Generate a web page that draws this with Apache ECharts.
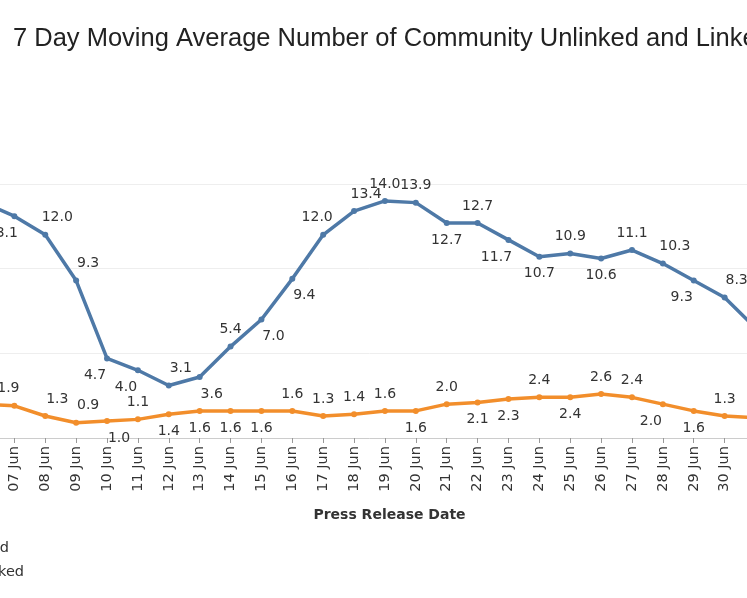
<!DOCTYPE html><html><head><meta charset="utf-8"><script src="https://cdn.jsdelivr.net/npm/echarts@6/dist/echarts.min.js"></script>
<style>html,body{margin:0;background:#fff;overflow:hidden;width:747px;height:598px}#c{position:absolute;left:-24px;top:0;width:787px;height:598px}</style></head><body><div id="c"></div><script>
const categories=['06 Jun','07 Jun','08 Jun','09 Jun','10 Jun','11 Jun','12 Jun','13 Jun','14 Jun','15 Jun','16 Jun','17 Jun','18 Jun','19 Jun','20 Jun','21 Jun','22 Jun','23 Jun','24 Jun','25 Jun','26 Jun','27 Jun','28 Jun','29 Jun','30 Jun','01 Jul'];
const unlinked=[13.9,13.1,12.0,9.3,4.7,4.0,3.1,3.6,5.4,7.0,9.4,12.0,13.4,14.0,13.9,12.7,12.7,11.7,10.7,10.9,10.6,11.1,10.3,9.3,8.3,6.5];
const linked=[2.0,1.9,1.3,0.9,1.0,1.1,1.4,1.6,1.6,1.6,1.6,1.3,1.4,1.6,1.6,2.0,2.1,2.3,2.4,2.4,2.6,2.4,2.0,1.6,1.3,1.2];
// T top, U top-right, V top-left, B bottom, R bottom-right, L bottom-left
const unlinkedPos='TLUULLURTRRVUTTBTLBTBTULUT';
const linkedPos='TVUURTBBBBTTTTBTBBTBTTLBTT';
const off={T:[0,0],U:[12,0],V:[-6,0],B:[0,0],R:[12,0],L:[-12,0]};
const last=categories.length-1;
const mk=(vals,pos)=>vals.map((v,i)=>({value:v,label:{show:i>0&&i<last,position:'TUV'.includes(pos[i])?'top':'bottom',offset:off[pos[i]]}}));
const chart=echarts.init(document.getElementById('c'));
const F='DejaVu Sans';
const lbl={show:true,formatter:p=>p.value.toFixed(1),fontSize:14,color:'#333',fontFamily:F,distance:7};
chart.setOption({
 animation:false,
 title:{text:'7 Day Moving Average Number of Community Unlinked and Linked Cases',left:32,top:21,textStyle:{fontSize:25.5,fontWeight:'normal',color:'#222',fontFamily:'Liberation Sans'}},
 grid:{left:0,right:0,top:184,bottom:160,containLabel:false},
 xAxis:{type:'category',data:categories,boundaryGap:false,axisLine:{lineStyle:{color:'#ccc'}},axisTick:{show:true,lineStyle:{color:'#999'}},
  axisLabel:{rotate:90,fontSize:14.5,color:'#333',fontFamily:F,interval:0},
  name:'Press Release Date',nameLocation:'middle',nameGap:70,nameTextStyle:{fontWeight:'bold',fontSize:14,color:'#333',fontFamily:F,padding:[0,0,0,40]}},
 yAxis:{type:'value',min:0,max:15,interval:5,axisLabel:{show:false},splitLine:{lineStyle:{color:'#eee'}},axisLine:{show:false}},
 graphic:[{type:'text',right:754,top:541,style:{text:'Community Unlinked',fontSize:14.5,fill:'#333',fontFamily:F}},
  {type:'text',right:739,top:565,style:{text:'Community Linked',fontSize:14.5,fill:'#333',fontFamily:F}}],
 series:[
  {type:'line',data:mk(unlinked,unlinkedPos),symbol:'circle',symbolSize:6,lineStyle:{width:3.5,color:'#4e79a7'},itemStyle:{color:'#4e79a7'},label:lbl},
  {type:'line',data:mk(linked,linkedPos),symbol:'circle',symbolSize:6,lineStyle:{width:3.5,color:'#f28e2b'},itemStyle:{color:'#f28e2b'},label:lbl}
 ]
});
</script></body></html>
